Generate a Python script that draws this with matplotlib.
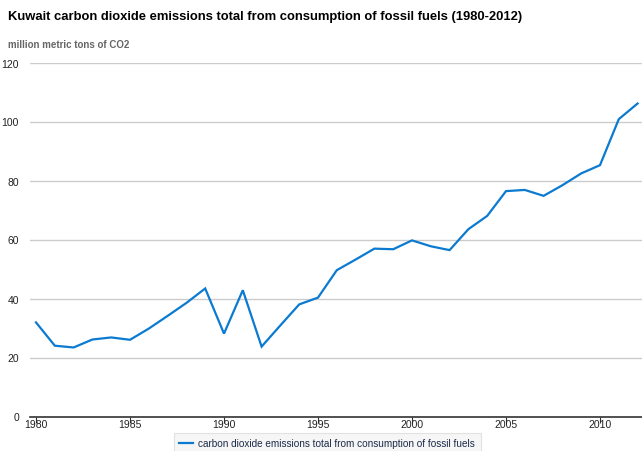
import matplotlib
matplotlib.use("Agg")
import matplotlib.pyplot as plt

years = list(range(1980, 2013))
emissions = [31.9, 24.0, 23.4, 26.1, 26.8, 26.0, 29.8, 34.1, 38.5, 43.4,
             28.1, 42.8, 23.7, 30.9, 38.0, 40.3, 49.6, 53.2, 56.9, 56.7,
             59.7, 57.7, 56.4, 63.5, 68.0, 76.4, 76.8, 74.8, 78.4, 82.4,
             85.2, 100.8, 106.1]
y_ticks = [0, 20, 40, 60, 80, 100, 120]
x_ticks = [1980, 1985, 1990, 1995, 2000, 2005, 2010]

title = "Kuwait carbon dioxide emissions total from consumption of fossil fuels (1980-2012)"
y_label = "million metric tons of CO2"
series_name = "carbon dioxide emissions total from consumption of fossil fuels"

plt.rcParams['font.family'] = ['Liberation Sans', 'DejaVu Sans']

W, H = 642, 452
fig = plt.figure(figsize=(W / 100, H / 100), dpi=100)
left, right = 30, 642
bottom, top = 417.5, 63.5
ax = fig.add_axes([left / W, (H - bottom) / H, (right - left) / W, (bottom - top) / H])

line_color = '#0b7ad1'
ax.plot(years, emissions, color=line_color, linewidth=1.6, label=series_name,
        solid_joinstyle='miter', zorder=3)

ax.set_xlim(1980 - 6 / 18.8, 1980 + 606 / 18.8)
ax.set_ylim(0, 120)
ax.set_yticks(y_ticks)
ax.set_xticks(x_ticks)
ax.set_xticklabels([str(x) for x in x_ticks])
ax.grid(axis='y', color='#cccccc', linewidth=1.0, zorder=0)
for s in ['left', 'right', 'top']:
    ax.spines[s].set_visible(False)
ax.spines['bottom'].set_color('#333333')
ax.spines['bottom'].set_linewidth(1.2)
ax.spines['bottom'].set_zorder(4)
ax.tick_params(axis='y', length=0, pad=8, labelsize=7.5, labelcolor='#222222')
ax.tick_params(axis='x', length=4, width=0.8, color='#333333', direction='out',
               pad=-2, labelsize=7.5, labelcolor='#222222')

fig.text(8 / W, 1 - 17 / H, title, fontsize=9.4, fontweight='bold', color='#000000',
         ha='left', va='center')
fig.text(8 / W, 1 - 45 / H, y_label, fontsize=7.0, fontweight='bold', color='#666666',
         ha='left', va='center')

leg = ax.legend(loc='upper left', bbox_to_anchor=(174 / W, (H - 434) / H),
                bbox_transform=fig.transFigure, frameon=True, fancybox=False,
                fontsize=7.2, handlelength=1.4, handletextpad=0.5,
                borderpad=0.55, borderaxespad=0)
leg.get_frame().set_facecolor('#f4f4f4')
leg.get_frame().set_edgecolor('#dddddd')
leg.get_frame().set_linewidth(0.8)
for t in leg.get_texts():
    t.set_color('#1c2a48')

fig.savefig('out.png', dpi=100)
